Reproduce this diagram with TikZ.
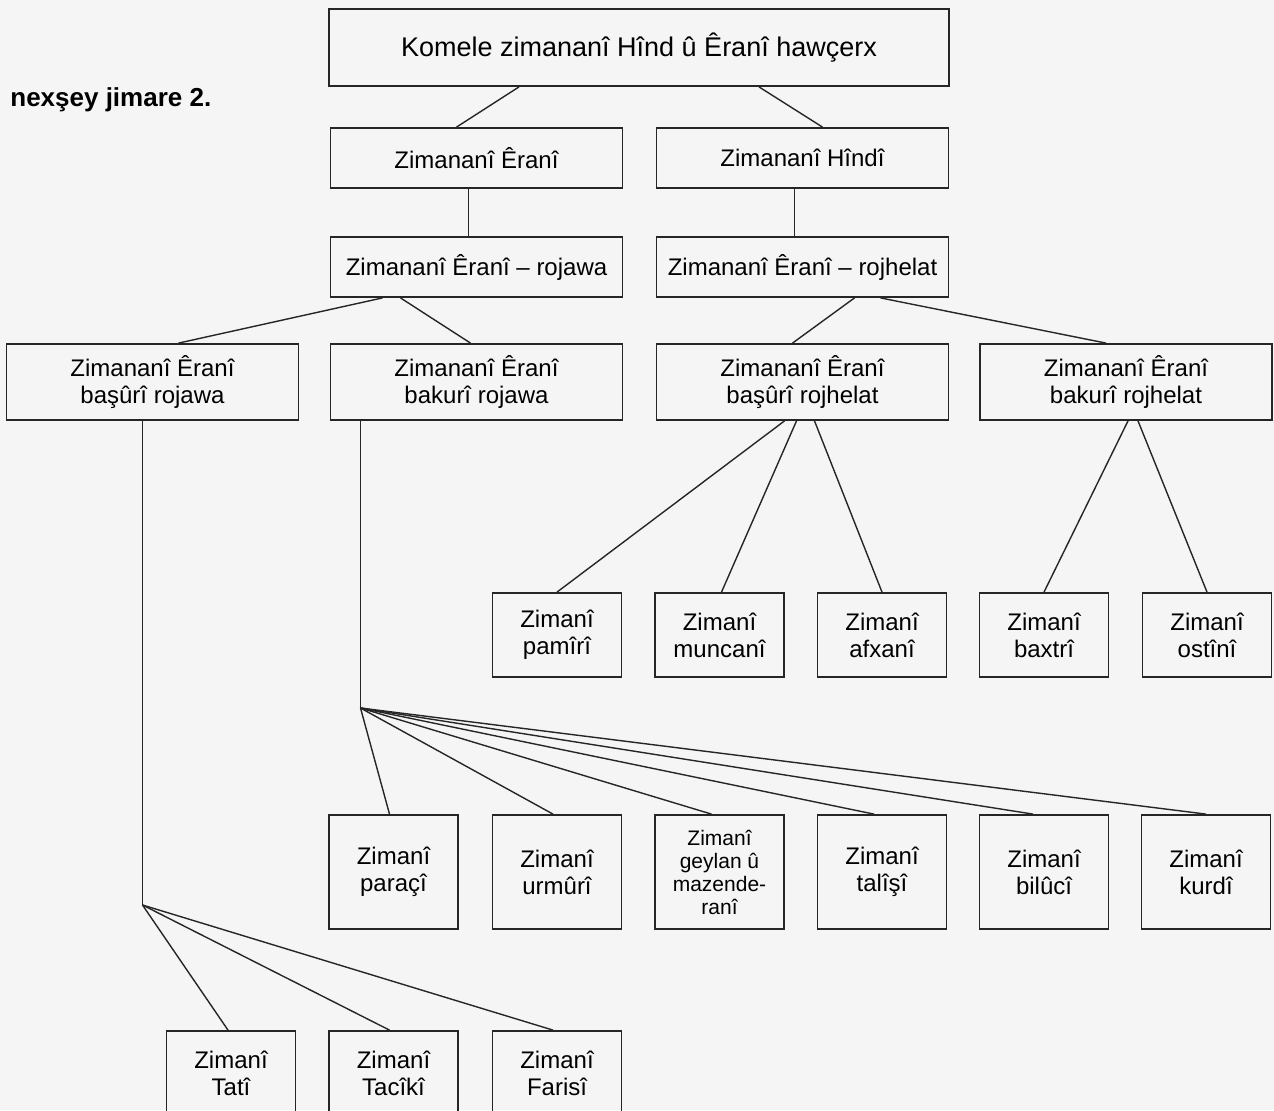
\documentclass[tikz,border=0pt]{standalone}
\usepackage{fontspec}
\setmainfont{Liberation Sans}

\begin{document}
\begin{tikzpicture}[x=0.5pt, y=-0.5pt,
    box/.style={draw=black!85, line width=0.9pt, align=center, inner sep=0pt,
        font=\fontsize{12}{13.5}\selectfont},
    wide/.style={box, minimum width=146pt, minimum height=30pt},
    wider/.style={box, minimum width=146pt, minimum height=38pt},
    small/.style={box, minimum width=64.5pt, minimum height=42pt},
    tall/.style={box, minimum width=64.5pt, minimum height=57pt},
    link/.style={draw=black!85, line width=0.7pt}]
    \fill[black!4] (0, 0) rectangle (1274, 1110);
    \useasboundingbox (0, 0) rectangle (1274, 1110);
    \clip (0, 0) rectangle (1274, 1110);

    \node[box, minimum width=310pt, minimum height=38.5pt,
        font=\fontsize{13.5}{15}\selectfont] (K0) at (639, 47.5)
        {Komele zimananî Hînd û Êranî hawçerx};
    \node[anchor=west, inner sep=0pt, font=\bfseries\fontsize{13}{15}\selectfont]
        (lbl) at (10, 100) {nexşey jimare 2.};

    \node[wide] (E0) at (476.5, 158) {Zimananî Êranî};
    \draw[link] ([xshift=-60pt]K0.south) -- ([xshift=-10pt]E0.north);
    \node[wide] (H0) at (802.5, 158) {Zimananî Hîndî};
    \draw[link] ([xshift=60pt]K0.south) -- ([xshift=10pt]H0.north);

    \node[wide] (E1) at (476.5, 267) {Zimananî Êranî -- rojawa};
    \draw[link] ([xshift=-4pt]E0.south) -- ([xshift=-4pt]E1.north);
    \node[wide] (E2) at (802.5, 267) {Zimananî Êranî -- rojhelat};
    \draw[link] ([xshift=-4pt]H0.south) -- ([xshift=-4pt]E2.north);

    \node[wider] (W1) at (152.5, 382) {Zimananî Êranî\\başûrî rojawa};
    \draw[link] ([xshift=-47pt]E1.south) -- ([xshift=13pt]W1.north);
    \node[wider] (W2) at (476.5, 382) {Zimananî Êranî\\bakurî rojawa};
    \draw[link] ([xshift=-38pt]E1.south) -- ([xshift=-3pt]W2.north);
    \node[wider] (R1) at (802.5, 382) {Zimananî Êranî\\başûrî rojhelat};
    \draw[link] ([xshift=26pt]E2.south) -- ([xshift=-5pt]R1.north);
    \node[wider] (R2) at (1126, 382) {Zimananî Êranî\\bakurî rojhelat};
    \draw[link] ([xshift=39pt]E2.south) -- ([xshift=-10pt]R2.north);

    \node[small] (P1) at (557, 635) {Zimanî\\pamîrî};
    \draw[link] ([xshift=-9pt]R1.south) -- (P1.north);
    \node[small] (P2) at (719.5, 635) {Zimanî\\muncanî};
    \draw[link] ([xshift=-3pt]R1.south) -- ([xshift=1pt]P2.north);
    \node[small] (P3) at (882, 635) {Zimanî\\afxanî};
    \draw[link] ([xshift=6pt]R1.south) -- (P3.north);
    \node[small] (P4) at (1044, 635) {Zimanî\\baxtrî};
    \draw[link] ([xshift=1pt]R2.south) -- (P4.north);
    \node[small] (P5) at (1207, 635) {Zimanî\\ostînî};
    \draw[link] ([xshift=6pt]R2.south) -- (P5.north);

    \coordinate (f1) at (360.5, 708);
    \draw[link] ([xshift=-58pt]W2.south) -- (f1);
    \node[tall] (Q1) at (393.5, 872) {Zimanî\\paraçî};
    \draw[link] (f1) -- ([xshift=-2pt]Q1.north);
    \node[tall] (Q2) at (557, 872) {Zimanî\\urmûrî};
    \draw[link] (f1) -- ([xshift=-2pt]Q2.north);
    \node[tall, font=\fontsize{10.5}{11.5}\selectfont] (Q3) at (719.5, 872)
        {Zimanî\\geylan û\\mazende-\\ranî};
    \draw[link] (f1) -- ([xshift=-4pt]Q3.north);
    \node[tall] (Q4) at (882, 872) {Zimanî\\talîşî};
    \draw[link] (f1) -- ([xshift=-4pt]Q4.north);
    \node[tall] (Q5) at (1044, 872) {Zimanî\\bilûcî};
    \draw[link] (f1) -- ([xshift=-5.5pt]Q5.north);
    \node[tall] (Q6) at (1206, 872) {Zimanî\\kurdî};
    \draw[link] (f1) -- (Q6.north);

    \coordinate (f2) at (142.5, 905);
    \draw[link] ([xshift=-5pt]W1.south) -- (f2);
    \node[small] (T1) at (231, 1073) {Zimanî\\Tatî};
    \draw[link] (f2) -- ([xshift=-1.5pt]T1.north);
    \node[small] (T2) at (393.5, 1073) {Zimanî\\Tacîkî};
    \draw[link] (f2) -- ([xshift=-2pt]T2.north);
    \node[small] (T3) at (557, 1073) {Zimanî\\Farisî};
    \draw[link] (f2) -- ([xshift=-2pt]T3.north);
\end{tikzpicture}
\end{document}
